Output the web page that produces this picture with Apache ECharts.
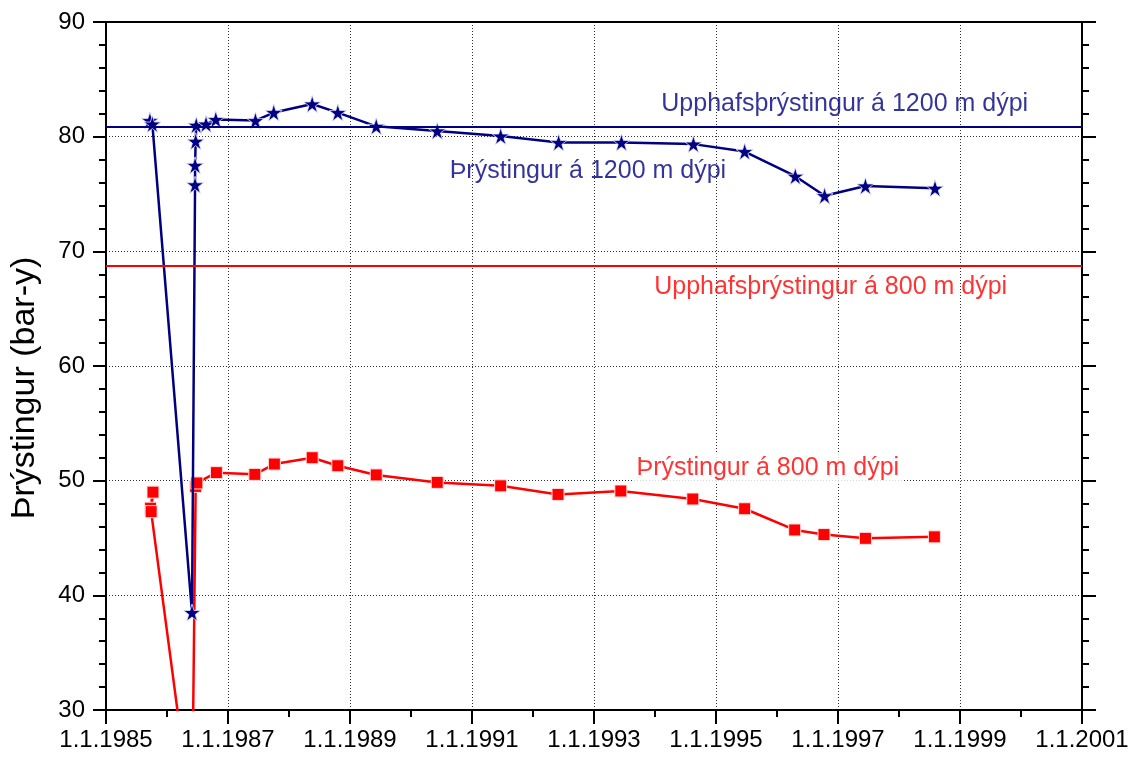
<!DOCTYPE html>
<html>
<head>
<meta charset="utf-8">
<script src="https://cdn.jsdelivr.net/npm/echarts@6/dist/echarts.min.js"></script>
<style>
  html, body { margin: 0; padding: 0; background: #fff; }
  #chart { width: 1138px; height: 758px; }
</style>
</head>
<body>
<div id="chart"></div>
<script>
// Pressure history (bar-g) at 1200 m and 800 m depth; time given as decimal years
const years1200 = [1985.72, 1985.76, 1986.41, 1986.46, 1986.46, 1986.47, 1986.48, 1986.64, 1986.80, 1987.45, 1987.75, 1988.38, 1988.80, 1989.43, 1990.43, 1991.47, 1992.42, 1993.45, 1994.63, 1995.47, 1996.30, 1996.78, 1997.45, 1998.59];
const pressure1200 = [81.4, 81.1, 38.5, 75.8, 77.5, 79.6, 81.0, 81.1, 81.5, 81.4, 82.1, 82.85, 82.1, 80.9, 80.5, 80.05, 79.5, 79.5, 79.35, 78.7, 76.55, 74.85, 75.7, 75.5];

const years800 = [1985.73, 1985.77, 1985.74, 1986.41, 1986.47, 1986.49, 1986.81, 1987.44, 1987.76, 1988.38, 1988.80, 1989.43, 1990.43, 1991.47, 1992.41, 1993.44, 1994.62, 1995.47, 1996.29, 1996.77, 1997.45, 1998.58];
const pressure800 = [47.6, 49.0, 47.3, 20.4, 49.5, 49.8, 50.7, 50.55, 51.45, 52.0, 51.3, 50.5, 49.85, 49.55, 48.8, 49.1, 48.4, 47.55, 45.7, 45.3, 44.97, 45.1];

// Initial reservoir pressures
const initial1200 = 80.9;
const initial800 = 68.7;

// Axis settings
const xMin = 1985, xMax = 2001, xStep = 2;
const yMin = 30, yMax = 90, yStep = 10;

// Annotation texts with their anchor (year, pressure)
const notes = [
  { text: 'Upphafsþrýstingur á 1200 m dýpi', at: [1997.11, 82.85], color: '#000080', bg: false },
  { text: 'Þrýstingur á 1200 m dýpi', at: [1992.9, 77.0], color: '#000080', bg: false },
  { text: 'Upphafsþrýstingur á 800 m dýpi', at: [1996.88, 66.85], color: '#ff0000', bg: false },
  { text: 'Þrýstingur á 800 m dýpi', at: [1995.85, 51.1], color: '#ff0000', bg: true }
];

const NAVY = '#000080';
const RED = '#ff0000';
const FONT = '"Liberation Sans", Arial, sans-serif';
const STAR = 'path://M50,0 L61.2,34.5 L97.6,34.5 L68.2,55.9 L79.4,90.5 L50,69.1 L20.6,90.5 L31.8,55.9 L2.4,34.5 L38.8,34.5 Z';

const zip = (xs, ys) => xs.map((x, i) => [x, ys[i]]);

const chart = echarts.init(document.getElementById('chart'), null, { renderer: 'canvas' });

const tickStyle = { color: '#000', width: 2 };

chart.setOption({
  animation: false,
  backgroundColor: '#fff',
  grid: { left: 106, right: 56, top: 22, bottom: 48, containLabel: false },
  xAxis: [
    {
      type: 'value', min: xMin, max: xMax, interval: xStep, position: 'bottom',
      axisLine: { show: true, onZero: false, lineStyle: tickStyle },
      axisTick: { show: true, length: 14, lineStyle: tickStyle },
      minorTick: { show: true, splitNumber: 2, length: 7, lineStyle: tickStyle },
      axisLabel: {
        margin: 18, color: '#000', fontSize: 24, fontFamily: FONT,
        formatter: v => '1.1.' + v
      },
      splitLine: { show: true, lineStyle: { color: '#333', width: 1, type: [1, 2] } }
    },
    {
      type: 'value', min: xMin, max: xMax, interval: xStep, position: 'top',
      axisLine: { show: true, onZero: false, lineStyle: tickStyle },
      axisTick: { show: false }, axisLabel: { show: false }, splitLine: { show: false }
    }
  ],
  yAxis: [
    {
      type: 'value', min: yMin, max: yMax, interval: yStep, position: 'left',
      name: 'Þrýstingur (bar-y)', nameLocation: 'middle', nameGap: 64,
      nameTextStyle: { fontSize: 34, color: '#000', fontFamily: FONT, padding: [0, 44, 0, 0] },
      axisLine: { show: true, onZero: false, lineStyle: tickStyle },
      axisTick: { show: true, length: 13, lineStyle: tickStyle },
      minorTick: { show: true, splitNumber: 5, length: 7, lineStyle: tickStyle },
      axisLabel: { margin: 21, color: '#000', fontSize: 24, fontFamily: FONT },
      splitLine: { show: true, lineStyle: { color: '#333', width: 1, type: [1, 2] } }
    },
    {
      type: 'value', min: yMin, max: yMax, interval: yStep, position: 'right',
      axisLine: { show: true, onZero: false, lineStyle: tickStyle },
      axisTick: { show: true, length: 14, lineStyle: tickStyle },
      minorTick: { show: true, splitNumber: 5, length: 7, lineStyle: tickStyle },
      axisLabel: { show: false }, splitLine: { show: false }
    }
  ],
  series: [
    {
      name: 'Þrýstingur á 800 m dýpi', type: 'line', xAxisIndex: 0, yAxisIndex: 0,
      data: zip(years800, pressure800), clip: true,
      symbol: 'rect', symbolSize: 12,
      lineStyle: { color: RED, width: 2.5 },
      itemStyle: { color: RED, borderColor: '#ffe0e0', borderWidth: 1 },
      markLine: {
        silent: true, symbol: 'none', label: { show: false },
        lineStyle: { color: RED, width: 2, type: 'solid' },
        data: [{ yAxis: initial800 }]
      },
      z: 3
    },
    {
      name: 'Þrýstingur á 1200 m dýpi', type: 'line', xAxisIndex: 0, yAxisIndex: 0,
      data: zip(years1200, pressure1200), clip: true,
      symbol: STAR, symbolSize: 17,
      lineStyle: { color: NAVY, width: 2.5 },
      itemStyle: { color: NAVY, borderColor: '#e0e0ff', borderWidth: 0.8 },
      markLine: {
        silent: true, symbol: 'none', label: { show: false },
        lineStyle: { color: NAVY, width: 2, type: 'solid' },
        data: [{ yAxis: initial1200 }]
      },
      z: 4
    },
    {
      // Text annotations placed in data coordinates
      type: 'scatter', xAxisIndex: 0, yAxisIndex: 0, silent: true,
      symbolSize: 0, z: 5,
      data: notes.map(n => ({
        value: n.at,
        label: {
          show: true, position: 'inside', formatter: n.text,
          color: n.color, fontSize: 25, fontFamily: FONT,
          backgroundColor: n.bg ? '#fff' : 'transparent',
          padding: n.bg ? [2, 4] : 0
        }
      }))
    }
  ]
});
</script>
</body>
</html>
